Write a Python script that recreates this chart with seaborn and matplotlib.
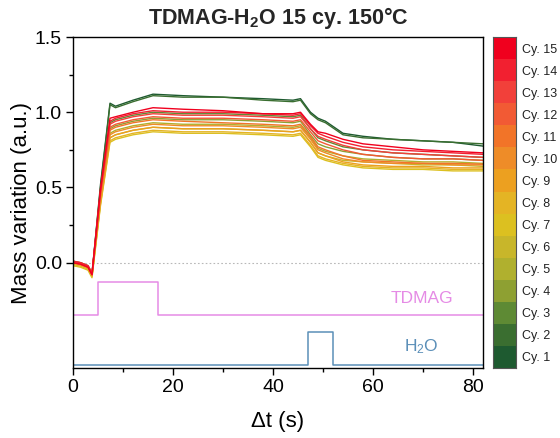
import numpy as np
import pandas as pd
import matplotlib
matplotlib.use("Agg")
import matplotlib.pyplot as plt
import matplotlib.colors as mcolors
from matplotlib.ticker import MultipleLocator, FixedLocator
import seaborn as sns

# ---------------- data ----------------
t = [0, 1.5, 3, 3.8, 5.5, 7.4, 8.5, 12, 16, 22, 30, 38, 44, 45.5, 47.5, 49, 50.5, 54, 58, 64, 70, 76, 82]

cy1 = [0.01, 0.00, -0.03, -0.08, 0.52, 1.06, 1.04, 1.08, 1.12, 1.11, 1.10, 1.09, 1.08, 1.09, 1.00, 0.96, 0.94, 0.86, 0.84, 0.82, 0.81, 0.80, 0.775]
cy2 = [0.00, 0.00, -0.02, -0.07, 0.50, 1.05, 1.03, 1.07, 1.11, 1.10, 1.10, 1.08, 1.07, 1.08, 0.99, 0.95, 0.93, 0.85, 0.83, 0.82, 0.81, 0.80, 0.79]
cy3 = [0.00, -0.01, -0.03, -0.08, 0.46, 0.93, 0.95, 0.98, 1.00, 0.99, 0.99, 0.98, 0.97, 0.98, 0.89, 0.83, 0.81, 0.77, 0.75, 0.73, 0.72, 0.71, 0.70]
cy4 = [-0.01, -0.02, -0.04, -0.09, 0.44, 0.89, 0.91, 0.94, 0.96, 0.95, 0.95, 0.94, 0.93, 0.94, 0.85, 0.79, 0.77, 0.74, 0.72, 0.70, 0.69, 0.69, 0.68]
cy5 = [0.00, -0.01, -0.03, -0.08, 0.42, 0.86, 0.88, 0.91, 0.93, 0.92, 0.92, 0.91, 0.90, 0.91, 0.83, 0.76, 0.74, 0.71, 0.69, 0.68, 0.67, 0.67, 0.66]
cy6 = [-0.01, -0.02, -0.04, -0.09, 0.40, 0.83, 0.85, 0.88, 0.90, 0.89, 0.89, 0.88, 0.87, 0.88, 0.80, 0.73, 0.71, 0.68, 0.67, 0.66, 0.65, 0.65, 0.64]
cy7 = [-0.02, -0.03, -0.05, -0.10, 0.38, 0.80, 0.82, 0.85, 0.87, 0.86, 0.86, 0.85, 0.84, 0.85, 0.77, 0.70, 0.68, 0.65, 0.63, 0.62, 0.62, 0.61, 0.61]
cy8 = [-0.01, -0.02, -0.04, -0.09, 0.39, 0.81, 0.83, 0.86, 0.88, 0.87, 0.87, 0.86, 0.85, 0.86, 0.78, 0.71, 0.69, 0.66, 0.64, 0.63, 0.63, 0.62, 0.62]
cy9 = [0.00, -0.01, -0.03, -0.08, 0.41, 0.83, 0.85, 0.88, 0.90, 0.89, 0.89, 0.88, 0.87, 0.88, 0.80, 0.73, 0.71, 0.67, 0.65, 0.64, 0.64, 0.63, 0.63]
cy10 = [0.00, -0.01, -0.03, -0.08, 0.43, 0.85, 0.87, 0.90, 0.92, 0.91, 0.91, 0.90, 0.89, 0.90, 0.82, 0.75, 0.73, 0.69, 0.67, 0.66, 0.66, 0.65, 0.65]
cy11 = [0.01, 0.00, -0.02, -0.07, 0.45, 0.88, 0.90, 0.93, 0.95, 0.94, 0.93, 0.92, 0.91, 0.92, 0.84, 0.77, 0.75, 0.71, 0.68, 0.67, 0.66, 0.66, 0.655]
cy12 = [0.00, -0.01, -0.03, -0.08, 0.46, 0.90, 0.92, 0.95, 0.97, 0.96, 0.96, 0.95, 0.94, 0.95, 0.87, 0.81, 0.79, 0.75, 0.72, 0.70, 0.69, 0.69, 0.68]
cy13 = [0.00, -0.01, -0.03, -0.08, 0.47, 0.92, 0.94, 0.97, 0.99, 0.98, 0.98, 0.97, 0.96, 0.97, 0.89, 0.84, 0.82, 0.78, 0.75, 0.73, 0.72, 0.71, 0.70]
cy14 = [0.01, 0.00, -0.02, -0.07, 0.48, 0.94, 0.96, 0.99, 1.01, 1.00, 1.00, 0.99, 0.98, 0.99, 0.91, 0.86, 0.84, 0.80, 0.77, 0.75, 0.74, 0.73, 0.72]
cy15 = [0.00, -0.01, -0.03, -0.08, 0.49, 0.96, 0.97, 1.00, 1.03, 1.02, 1.01, 0.99, 0.99, 1.00, 0.92, 0.87, 0.86, 0.82, 0.79, 0.77, 0.75, 0.74, 0.73]

cycles = [cy1, cy2, cy3, cy4, cy5, cy6, cy7, cy8, cy9, cy10, cy11, cy12, cy13, cy14, cy15]
cycle_labels = ["Cy. 1", "Cy. 2", "Cy. 3", "Cy. 4", "Cy. 5", "Cy. 6", "Cy. 7", "Cy. 8",
                "Cy. 9", "Cy. 10", "Cy. 11", "Cy. 12", "Cy. 13", "Cy. 14", "Cy. 15"]

cycle_colors = ["#1e5a30", "#3a6e30", "#5e8a34", "#8ea032", "#b0b02e",
                "#c8b62a", "#dcc020", "#e4b424", "#eca020", "#ee8c28",
                "#f27428", "#f25a34", "#f2403a", "#f22030", "#f0001e"]

# precursor pulse sequences (step shapes)
tdmag_t = [0, 5, 5, 17, 17, 82]
tdmag_v = [-0.35, -0.35, -0.13, -0.13, -0.35, -0.35]
h2o_t = [0, 47, 47, 52, 52, 82]
h2o_v = [-0.68, -0.68, -0.46, -0.46, -0.68, -0.68]

xticks = [0, 20, 40, 60, 80]
yticks = [0.0, 0.5, 1.0, 1.5]

# ---------------- style ----------------
sns.set_theme(style="white")
plt.rcParams["font.family"] = ["Liberation Sans", "DejaVu Sans"]
plt.rcParams["mathtext.fontset"] = "custom"
plt.rcParams["mathtext.rm"] = "Liberation Sans"
plt.rcParams["mathtext.default"] = "regular"

fig = plt.figure(figsize=(5.6, 4.38), dpi=100)
ax = fig.add_axes([73/560, 1-368/438, 410/560, 331/438])

rows = []
for lab, vals in zip(cycle_labels, cycles):
    for tt, vv in zip(t, vals):
        rows.append({"t": tt, "v": vv, "cycle": lab})
df = pd.DataFrame(rows)

sns.lineplot(data=df, x="t", y="v", hue="cycle", hue_order=cycle_labels,
             palette=cycle_colors, linewidth=1.0, legend=False, ax=ax,
             estimator=None, sort=False)

ax.plot(tdmag_t, tdmag_v, color="#e58be5", lw=1.1)
ax.plot(h2o_t, h2o_v, color="#5b8fb8", lw=1.1)
ax.axhline(0.0, color="#b8b8b8", lw=0.8, ls=(0, (1.5, 2)), zorder=0)

ax.text(69.7, -0.24, "TDMAG", color="#e58be5", fontsize=12.5, ha="center", va="center")
ax.text(69.7, -0.56, "H$_2$O", color="#5b8fb8", fontsize=12.5, ha="center", va="center")

ax.set_xlim(0, 82)
ax.set_ylim(-0.7, 1.5)
ax.set_xticks(xticks)
ax.set_yticks(yticks)
ax.xaxis.set_minor_locator(MultipleLocator(10))
ax.yaxis.set_minor_locator(FixedLocator([0.25, 0.75, 1.25]))
ax.tick_params(axis="both", which="major", direction="out", length=5, width=1,
               labelsize=14, color="black", labelcolor="black",
               bottom=True, left=True, pad=3)
ax.tick_params(axis="both", which="minor", direction="out", length=3, width=1,
               color="black", bottom=True, left=True)
for s in ax.spines.values():
    s.set_color("black")
    s.set_linewidth(1.0)

ax.set_xlabel("Δt (s)", fontsize=16, color="black")
ax.set_ylabel("Mass variation (a.u.)", fontsize=16, color="black")
ax.yaxis.set_label_coords(-0.10, 0.5)
ax.xaxis.set_label_coords(0.5, -0.13)

fig.text(278/560, 1-18/438, "TDMAG-H$_2$O 15 cy. 150°C", fontsize=15.5,
         fontweight="bold", ha="center", va="center")

# discrete colour bar (one cell per cycle)
cax = fig.add_axes([493/560, 1-368/438, 23/560, 331/438])
cmap = mcolors.ListedColormap(cycle_colors)
cax.imshow(np.arange(len(cycle_colors)).reshape(-1, 1), cmap=cmap, aspect="auto",
           origin="lower", extent=[0, 1, 0.5, len(cycle_colors) + 0.5],
           interpolation="nearest")
cax.set_xticks([])
cax.yaxis.tick_right()
cax.set_yticks(np.arange(1, len(cycle_labels) + 1))
cax.set_yticklabels(cycle_labels)
cax.tick_params(axis="y", length=0, labelsize=9, pad=4, labelcolor="#222222")
for s in cax.spines.values():
    s.set_color("#555555")
    s.set_linewidth(0.8)

fig.savefig("out.png", dpi=100)
